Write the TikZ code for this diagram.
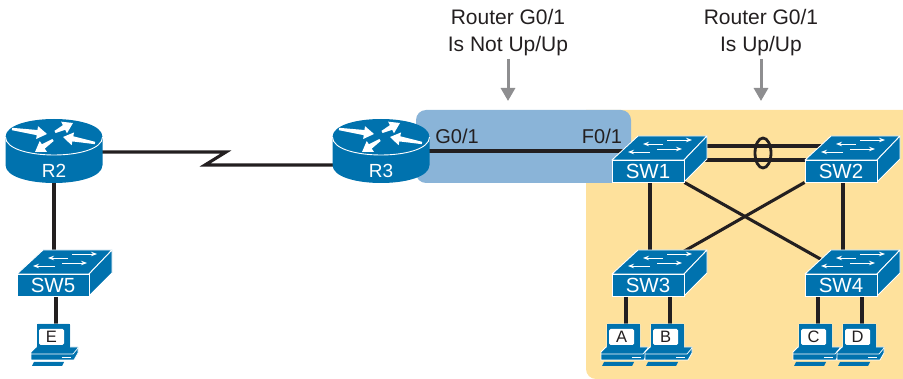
\documentclass[tikz,border=0pt]{standalone}
\usepackage{fontspec}
\setmainfont{Liberation Sans}
\usetikzlibrary{arrows.meta,shapes.geometric,calc}
\pgfdeclarelayer{back}\pgfdeclarelayer{mid}
\pgfsetlayers{back,mid,main}
\definecolor{ciscoblue}{HTML}{0072AE}
\definecolor{zoneyellow}{HTML}{FEE19C}
\definecolor{zoneblue}{HTML}{8AB4D8}
\definecolor{inktext}{HTML}{231F20}
\definecolor{arrowgray}{HTML}{8E8E90}
\tikzset{
  link/.style={draw=inktext,line width=3.1pt},
  wtip/.style={white,line width=.9pt,-{Stealth[length=6pt,width=4.5pt]}},
  callout/.style={arrowgray,line width=3pt,-{Triangle[length=13pt,width=14pt]}},
  swlabel/.style={text=white,font=\fontsize{20.5}{21}\selectfont,inner sep=0pt,minimum width=72pt,minimum height=22pt},
  rtlabel/.style={text=white,font=\fontsize{19}{20}\selectfont,inner sep=0pt},
  rtbox/.style={inner sep=0pt,minimum width=97pt,minimum height=65pt},
  pclabel/.style={text=inktext,fill=white,rounded corners=1.5pt,font=\fontsize{16.5}{17}\selectfont,inner sep=0pt,minimum width=25pt,minimum height=16pt},
  iflabel/.style={text=inktext,font=\fontsize{20}{20}\selectfont,inner sep=0pt},
  note/.style={text=inktext,font=\fontsize{21}{26.5}\selectfont,align=center,inner sep=0pt},
}
% tapered white arrow from (#1,#2) to (#3,#4)
\newcommand{\rarrowpoly}[4]{%
  \coordinate (ta) at (#1,#2);
  \coordinate (tb) at (#3,#4);
  \coordinate (tn) at ($(tb)!10pt!(ta)$);
  \fill[white] ($(ta)!1.2pt!90:(tb)$) -- ($(tn)!2.6pt!90:(tb)$) -- ($(tn)!6.5pt!90:(tb)$) -- (tb)
     -- ($(tn)!6.5pt!-90:(tb)$) -- ($(tn)!2.6pt!-90:(tb)$) -- ($(ta)!1.2pt!-90:(tb)$) -- cycle;}
% name, x, y (top-left of front face), label
\newcommand{\swicon}[4]{%
  \begin{scope}[shift={(#2,#3)}]
    \filldraw[ciscoblue,draw=white,line width=.9pt,line join=round] (0,0) -- (26,-24) -- (95,-24) -- (72,0) -- cycle;
    \filldraw[ciscoblue,draw=white,line width=.9pt,line join=round] (72,0) -- (95,-24) -- (95,-1) -- (72,22) -- cycle;
    \draw[wtip] (51,-16) -- (31,-16);
    \draw[wtip] (55,-20) -- (80,-20);
    \draw[wtip] (38,-8) -- (16,-8);
    \draw[wtip] (45,-11) -- (70,-11);
    \node[swlabel,fill=ciscoblue,draw=white,line width=.9pt] (#1) at (36,11) {#4};
  \end{scope}}
% name, x, y (centre of top ellipse), label
\newcommand{\rticon}[4]{%
  \begin{scope}[shift={(#2,#3)}]
    \node[rtbox] (#1) at (0,14) {};
    \fill[ciscoblue] (-48.5,0) -- (-48.5,28) .. controls (-48.5,52) and (48.5,52) .. (48.5,28) -- (48.5,0)
       .. controls (48.5,-24) and (-48.5,-24) .. (-48.5,0) -- cycle;
    \draw[white,line width=.9pt] (-48.5,0) .. controls (-48.5,24) and (48.5,24) .. (48.5,0);
    \rarrowpoly{-42}{-8}{-7}{-3}
    \rarrowpoly{1}{-5}{19}{-14}
    \rarrowpoly{41}{6}{9}{0}
    \rarrowpoly{-1}{3}{-19}{15}
    \node[rtlabel] (#1label) at (0,34) {#4};
  \end{scope}}
% name, x, y (top-left of monitor), label
\newcommand{\pcicon}[4]{%
  \begin{scope}[shift={(#2,#3)}]
    \fill[ciscoblue,draw=white,line width=.8pt,rounded corners=1pt] (0,0) rectangle (33,24);
    \fill[ciscoblue,draw=white,line width=.8pt] (-6,28) -- (-1,23) -- (41,23) -- (41,29) -- (37,36) -- (-6,36) -- cycle;
    \draw[white,line width=.7pt] (-6,30) -- (36,30) -- (41,24);
    \draw[white,line width=.7pt] (25,33) -- (34,33);
    \fill[ciscoblue] (-3,38) -- (27,38) -- (25,42) -- (-5,42) -- cycle;
    \fill[ciscoblue] (0,0) rectangle (33,24);
    \node[pclabel] (#1) at (14.5,13) {#4};
  \end{scope}}
\begin{document}
\begin{tikzpicture}[x=1pt,y=-1pt]
\useasboundingbox (0,0) rectangle (903,379);
\begin{pgfonlayer}{back}
  \fill[zoneyellow] (903,110) -- (903,379) [rounded corners=10pt] -- (586,379) [sharp corners] -- (586,110) -- cycle;
  \fill[zoneblue,rounded corners=10pt] (416,110) rectangle (631,183);
\end{pgfonlayer}

\rticon{R2}{54}{137}{R2}
\rticon{R3}{381}{137}{R3}
\swicon{SW5}{17}{274}{SW5}
\swicon{SW1}{612}{160}{SW1}
\swicon{SW2}{805}{160}{SW2}
\swicon{SW3}{612}{274}{SW3}
\swicon{SW4}{805}{274}{SW4}
\pcicon{E}{37}{324}{E}
\pcicon{A}{607}{324}{A}
\pcicon{B}{651}{324}{B}
\pcicon{C}{799}{324}{C}
\pcicon{D}{843}{324}{D}

\coordinate (kinkA) at (226,152);
\coordinate (kinkB) at (205,165);
\coordinate (laneF) at (0,151);
\coordinate (laneU) at (0,146);
\coordinate (laneL) at (0,160);
\coordinate (notA) at (508,101);
\coordinate (notB) at (761,101);
\coordinate (co1) at (508,59);
\coordinate (co2) at (761,59);

\begin{pgfonlayer}{mid}
  \draw[link] (R2.center |- kinkA) -- (kinkA) -- (kinkB) -- (R3.center |- kinkB);
  \draw[link] (R3.center |- laneF) -- (SW1.center |- laneF);
  \draw[link] (R2.center) -- (R2.center |- SW5.center);
  \draw[link] ([xshift=3pt]SW5.south) -- ([xshift=4.5pt]E.north);
  \draw[link] ([xshift=-22pt]SW3.south) -- ([xshift=4.5pt]A.north);
  \draw[link] ([xshift=22pt]SW3.south) -- ([xshift=4.5pt]B.north);
  \draw[link] ([xshift=-23pt]SW4.south) -- ([xshift=4.5pt]C.north);
  \draw[link] ([xshift=21pt]SW4.south) -- ([xshift=4.5pt]D.north);
  \draw[link] (SW1.center |- laneU) -- (SW2.center |- laneU);
  \draw[link] (SW1.center |- laneL) -- (SW2.center |- laneL);
  \draw[link] ([xshift=2pt]SW1.south) -- ([xshift=2pt]SW3.north);
  \draw[link] ([xshift=2pt]SW2.south) -- ([xshift=2pt]SW4.north);
  \draw[link] (SW1.south east) -- ([xshift=-9pt,yshift=8pt]SW4.north);
  \draw[link] (SW2.south west) -- ([xshift=11pt,yshift=8pt]SW3.north);
\end{pgfonlayer}

\node[ellipse,draw=inktext,line width=2.8pt,minimum width=16pt,minimum height=30pt,inner sep=0pt] (bundle) at (763,153) {};

\node[iflabel] (g01) at (457,136) {G0/1};
\node[iflabel] (f01) at (602,136) {F0/1};
\node[note] (noteL) at (508,32.5) {Router G0/1\\Is Not Up/Up};
\node[note] (noteR) at (761,32.5) {Router G0/1\\Is Up/Up};
\draw[callout] (co1) -- (notA);
\draw[callout] (co2) -- (notB);
\end{tikzpicture}
\end{document}
